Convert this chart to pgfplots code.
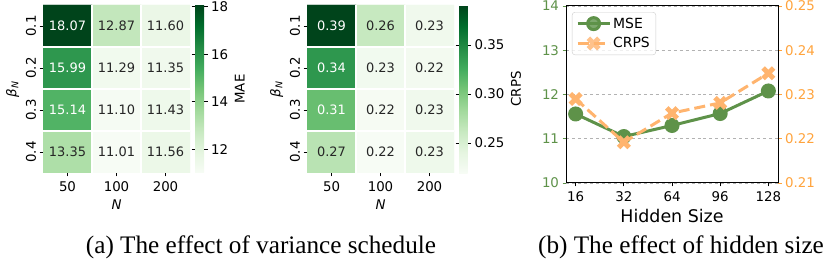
\documentclass[border=0pt]{standalone}
\usepackage{pgfplots}
\usepackage{pgfplotstable}
\pgfplotsset{compat=1.18}
\usepackage{fontspec}
\setmainfont{DejaVu Sans}
\newfontfamily\capfont{Liberation Serif}
\definecolor{msegreen}{RGB}{94,146,73}
\definecolor{crpsorange}{RGB}{255,180,110}
\definecolor{rtick}{RGB}{255,163,60}
\definecolor{annot}{RGB}{38,38,38}
\pgfdeclareplotmark{Xfill}{%
  \pgfpathmoveto{\pgfqpoint{-0.5\pgfplotmarksize}{-\pgfplotmarksize}}%
  \pgfpathlineto{\pgfqpoint{0pt}{-0.5\pgfplotmarksize}}%
  \pgfpathlineto{\pgfqpoint{0.5\pgfplotmarksize}{-\pgfplotmarksize}}%
  \pgfpathlineto{\pgfqpoint{\pgfplotmarksize}{-0.5\pgfplotmarksize}}%
  \pgfpathlineto{\pgfqpoint{0.5\pgfplotmarksize}{0pt}}%
  \pgfpathlineto{\pgfqpoint{\pgfplotmarksize}{0.5\pgfplotmarksize}}%
  \pgfpathlineto{\pgfqpoint{0.5\pgfplotmarksize}{\pgfplotmarksize}}%
  \pgfpathlineto{\pgfqpoint{0pt}{0.5\pgfplotmarksize}}%
  \pgfpathlineto{\pgfqpoint{-0.5\pgfplotmarksize}{\pgfplotmarksize}}%
  \pgfpathlineto{\pgfqpoint{-\pgfplotmarksize}{0.5\pgfplotmarksize}}%
  \pgfpathlineto{\pgfqpoint{-0.5\pgfplotmarksize}{0pt}}%
  \pgfpathlineto{\pgfqpoint{-\pgfplotmarksize}{-0.5\pgfplotmarksize}}%
  \pgfpathclose
  \pgfusepathqfill
}
\pgfplotsset{
  /pgf/number format/assume math mode=true,
  every tick label/.append style={font=\fontsize{13.4}{15}\selectfont},
  every axis label/.append style={font=\fontsize{13.4}{15}\selectfont},
  heat/.style={
    anchor=south west, scale only axis, width=147bp, height=168bp,
    xmin=-0.5, xmax=2.5, ymin=-0.5, ymax=3.5,
    axis x line*=bottom, axis y line*=left,
    axis line style={draw=none},
    xtick={0,1,2}, xticklabels={50,100,200},
    ytick={0,1,2,3}, yticklabels={0.4,0.3,0.2,0.1},
    yticklabel style={rotate=90, anchor=south},
    xticklabel style={yshift=-1.5bp},
    xlabel style={yshift=-1bp},
    tick align=outside, major tick length=3.5bp,
    tick style={black, line width=0.8bp},
    minor xtick={0.5,1.5}, minor ytick={0.5,1.5,2.5}, minor tick length=0pt,
    xminorgrids, yminorgrids, minor grid style={white, line width=1.2bp},
    axis on top,
    colormap={greens}{rgb255=(247,252,245) rgb255=(229,245,224) rgb255=(199,233,192) rgb255=(161,217,155) rgb255=(116,196,118) rgb255=(65,171,93) rgb255=(35,139,69) rgb255=(0,109,44) rgb255=(0,68,27)},
    colorbar,
    colorbar shift/.style={xshift=5bp},
    xlabel={\textit{N}}, ylabel={\textit{β}\textsubscript{\textit{N}}},
  },
  cbar/.style={
    at={(parent axis.north east)}, anchor=north west,
    width=9bp, height=168bp, scale only axis,
    axis line style={draw=none},
    tick align=outside, major tick length=3.5bp,
    tick style={black, line width=0.8bp},
    yticklabel pos=right, ylabel near ticks,
    scaled y ticks=false,
  },
  annW/.style={draw=none, mark=none, nodes near coords, point meta=explicit symbolic,
    nodes near coords style={anchor=center, text=white, font=\fontsize{13}{15}\selectfont}},
  annD/.style={draw=none, mark=none, nodes near coords, point meta=explicit symbolic,
    nodes near coords style={anchor=center, text=annot, font=\fontsize{13}{15}\selectfont}},
}
\pgfplotstableread{
x y c
0 0 13.35
1 0 11.01
2 0 11.56
0 1 15.14
1 1 11.10
2 1 11.43
0 2 15.99
1 2 11.29
2 2 11.35
0 3 18.07
1 3 12.87
2 3 11.60
}\maetab
\pgfplotstableread{
x y c
0 0 0.270
1 0 0.2194
2 0 0.230
0 1 0.310
1 1 0.221
2 1 0.228
0 2 0.340
1 2 0.226
2 2 0.224
0 3 0.3908
1 3 0.262
2 3 0.228
}\crpstab
\begin{document}
\begin{tikzpicture}
\path[use as bounding box] (0,0) rectangle (831bp,263bp);
% ---- heatmap MAE
\begin{axis}[heat, at={(43bp,90bp)},
  point meta min=11.01, point meta max=18.07,
  colorbar style={cbar, ytick={12,14,16,18}, ylabel={MAE}}]
\addplot[matrix plot*, mesh/cols=3, point meta=explicit] table[x=x, y=y, meta=c]{\maetab};
\addplot[annW] coordinates {(0,3)[18.07] (0,2)[15.99] (0,1)[15.14]};
\addplot[annD] coordinates {(1,3)[12.87] (2,3)[11.60] (1,2)[11.29] (2,2)[11.35] (1,1)[11.10] (2,1)[11.43] (0,0)[13.35] (1,0)[11.01] (2,0)[11.56]};
\end{axis}
% ---- heatmap CRPS
\begin{axis}[heat, at={(307bp,90bp)},
  point meta min=0.2194, point meta max=0.3908,
  colorbar style={cbar, width=8.5bp, ytick={0.25,0.30,0.35}, yticklabels={0.25,0.30,0.35}, ylabel={CRPS}}]
\addplot[matrix plot*, mesh/cols=3, point meta=explicit] table[x=x, y=y, meta=c]{\crpstab};
\addplot[annW] coordinates {(0,3)[0.39] (0,2)[0.34] (0,1)[0.31]};
\addplot[annD] coordinates {(1,3)[0.26] (2,3)[0.23] (1,2)[0.23] (2,2)[0.22] (1,1)[0.22] (2,1)[0.23] (0,0)[0.27] (1,0)[0.22] (2,0)[0.23]};
\end{axis}
% ---- line chart
\begin{axis}[at={(566bp,80bp)}, anchor=south west, scale only axis, width=212bp, height=177bp,
  xmin=-0.2, xmax=4.2, ymin=10, ymax=14,
  xtick={0,1,2,3,4}, xticklabels={16,32,64,96,128},
  ytick={10,11,12,13,14},
  xtick pos=bottom, ytick pos=left, tick align=outside, major tick length=3.5bp,
  ymajorgrids, major grid style={dashed, color=black!30, line width=0.8bp},
  yticklabel style={text=msegreen},
  xticklabel style={yshift=-1.5bp},
  y tick style={msegreen, line width=0.8bp},
  x tick style={black, line width=0.8bp},
  axis line style={black, line width=1bp},
  xlabel={Hidden Size}, xlabel style={font=\fontsize{17.5}{20}\selectfont, yshift=-1bp},
]
\addplot[msegreen, line width=3bp, mark=*, mark size=6bp] coordinates {(0,11.56) (1,11.05) (2,11.30) (3,11.57) (4,12.08)};
\end{axis}
\begin{axis}[at={(566bp,80bp)}, anchor=south west, scale only axis, width=212bp, height=177bp,
  xmin=-0.2, xmax=4.2, ymin=0.21, ymax=0.25,
  axis x line=none, axis y line*=right,
  ytick={0.21,0.22,0.23,0.24,0.25}, yticklabels={0.21,0.22,0.23,0.24,0.25},
  scaled y ticks=false,
  tick align=outside, major tick length=3.5bp,
  yticklabel style={text=rtick},
  y tick style={rtick, line width=0.8bp},
  axis line style={black, line width=1bp},
  legend style={at={(0.028,0.966)}, anchor=north west, draw=black!20, rounded corners=3bp,
    fill=white, fill opacity=0.8, text opacity=1, font=\fontsize{14}{16}\selectfont,
    row sep=4bp, inner xsep=4bp, inner ysep=3.5bp, cells={anchor=west}},
  legend image code/.code={\draw[mark repeat=2, mark phase=2, #1] plot coordinates {(0bp,0bp) (16bp,0bp) (32bp,0bp)};},
]
\addlegendimage{msegreen, line width=3bp, mark=*, mark size=6bp}
\addlegendentry{MSE}
\addplot[crpsorange, line width=3bp, dash pattern=on 11bp off 5bp, mark=Xfill, mark size=7bp, mark options={solid}] coordinates {(0,0.2290) (1,0.2192) (2,0.2258) (3,0.2281) (4,0.2348)};
\addlegendentry{CRPS}
\end{axis}
% ---- captions
\node[font=\capfont\fontsize{25.3}{30}\selectfont, anchor=base] at (261bp,10bp) {(a) The effect of variance schedule};
\node[font=\capfont\fontsize{25.3}{30}\selectfont, anchor=base] at (681bp,10bp) {(b) The effect of hidden size};
\end{tikzpicture}
\end{document}
